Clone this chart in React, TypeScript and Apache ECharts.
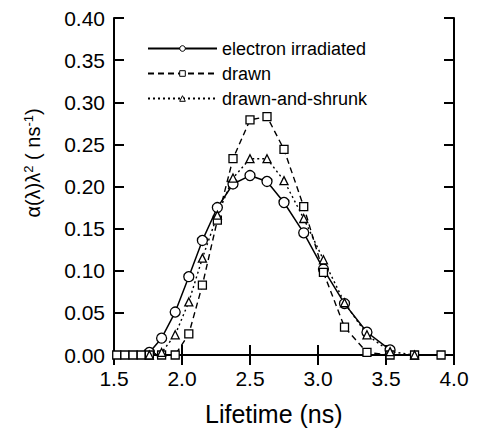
import React, { useEffect, useRef } from "react";
import * as echarts from "echarts";

// Lifetime grid (ns) shared by the three distributions
const lifetimes = [1.52, 1.58, 1.64, 1.70, 1.76, 1.85, 1.95, 2.05, 2.15, 2.26, 2.375, 2.50, 2.625, 2.75, 2.895, 3.04, 3.195, 3.36, 3.53, 3.71, 3.905];

const electronIrradiated = [null, null, null, null, 0.003, 0.020, 0.051, 0.093, 0.136, 0.175, 0.203, 0.213, 0.206, 0.181, 0.145, 0.102, 0.061, 0.027, 0.006, null, null];
const drawn = [0, 0, 0, 0, 0, 0, 0, 0.025, 0.083, 0.160, 0.233, 0.279, 0.283, 0.244, 0.176, 0.098, 0.033, 0.003, 0, 0, 0];
const drawnAndShrunk = [null, null, null, null, 0, 0.003, 0.024, 0.063, 0.115, 0.166, 0.210, 0.233, 0.233, 0.207, 0.162, 0.113, 0.062, 0.024, 0.004, 0, null];

const seriesNames = ["electron irradiated", "drawn", "drawn-and-shrunk"];

const xTicks = { min: 1.5, max: 4.0, step: 0.5 };
const yTicks = { min: 0, max: 0.4, step: 0.05 };

const FONT = "Liberation Sans, Arial, Helvetica, sans-serif";

function pairs(values: (number | null)[]) {
  const out: [number, number][] = [];
  values.forEach((v, i) => {
    if (v !== null) out.push([lifetimes[i], v]);
  });
  return out;
}

export default function App() {
  const ref = useRef<HTMLDivElement>(null);

  useEffect(() => {
    if (!ref.current) return;
    const chart = echarts.init(ref.current, null, { renderer: "svg" });

    const axisLine = { show: true, lineStyle: { color: "#000", width: 2 } };
    const axisTick = { show: true, inside: true, length: 10, lineStyle: { color: "#000", width: 2 } };

    const baseSeries = {
      type: "line" as const,
      showAllSymbol: true,
      symbolKeepAspect: true,
      itemStyle: { color: "#fff", borderColor: "#000", borderWidth: 1.3 },
      emphasis: { disabled: true },
      z: 3,
    };

    chart.setOption({
      animation: false,
      backgroundColor: "#fff",
      grid: { left: 114, right: 24, top: 18, bottom: 82 },
      legend: {
        orient: "vertical",
        left: 142,
        top: 34,
        itemWidth: 69,
        itemHeight: 7,
        itemGap: 6,
        itemStyle: { color: "#fff", borderColor: "#000", borderWidth: 1 },
        textStyle: { color: "#000", fontSize: 18, fontFamily: FONT, lineHeight: 19 },
        data: seriesNames,
        selectedMode: false,
      },
      xAxis: [
        {
          type: "value",
          min: xTicks.min,
          max: xTicks.max,
          interval: xTicks.step,
          axisLine,
          axisTick,
          splitLine: { show: false },
          axisLabel: {
            color: "#000",
            fontSize: 21,
            fontFamily: FONT,
            margin: 13,
            formatter: (v: number) => v.toFixed(1),
          },
        },
        {
          type: "value",
          position: "top",
          min: xTicks.min,
          max: xTicks.max,
          interval: xTicks.step,
          axisLine,
          axisTick,
          splitLine: { show: false },
          axisLabel: { show: false },
        },
      ],
      yAxis: [
        {
          type: "value",
          min: yTicks.min,
          max: yTicks.max,
          interval: yTicks.step,
          axisLine,
          axisTick,
          splitLine: { show: false },
          axisLabel: {
            color: "#000",
            fontSize: 21,
            fontFamily: FONT,
            margin: 9,
            formatter: (v: number) => v.toFixed(2),
          },
        },
        {
          type: "value",
          position: "right",
          min: yTicks.min,
          max: yTicks.max,
          interval: yTicks.step,
          axisLine,
          axisTick,
          splitLine: { show: false },
          axisLabel: { show: false },
        },
      ],
      graphic: [
        {
          type: "text",
          left: 205,
          top: 401,
          style: {
            text: "Lifetime (ns)",
            fill: "#000",
            font: `25px ${FONT}`,
          },
        },
        {
          type: "text",
          x: 33,
          y: 163,
          rotation: Math.PI / 2,
          style: {
            text: "{t|α(λ)λ}{s|2}{t| ( ns}{s|-1}{t|)}",
            fill: "#000",
            align: "center",
            verticalAlign: "middle",
            rich: {
              t: { fontSize: 20, fontFamily: FONT, fill: "#000", lineHeight: 22 },
              s: { fontSize: 13, fontFamily: FONT, fill: "#000", verticalAlign: "top", lineHeight: 22 },
            },
          },
        },
      ],
      series: [
        {
          ...baseSeries,
          name: seriesNames[0],
          data: pairs(electronIrradiated),
          symbol: "circle",
          symbolSize: 10,
          lineStyle: { color: "#000", width: 1.5, type: "solid" },
        },
        {
          ...baseSeries,
          name: seriesNames[1],
          data: pairs(drawn),
          symbol: "rect",
          symbolSize: 8,
          lineStyle: { color: "#000", width: 1.4, type: [6, 4] },
        },
        {
          ...baseSeries,
          name: seriesNames[2],
          data: pairs(drawnAndShrunk),
          symbol: "triangle",
          symbolSize: 8,
          lineStyle: { color: "#000", width: 1.4, type: [2, 3] },
        },
      ],
    });

    return () => chart.dispose();
  }, []);

  return <div ref={ref} style={{ width: 478, height: 437, margin: -8 }} />;
}
